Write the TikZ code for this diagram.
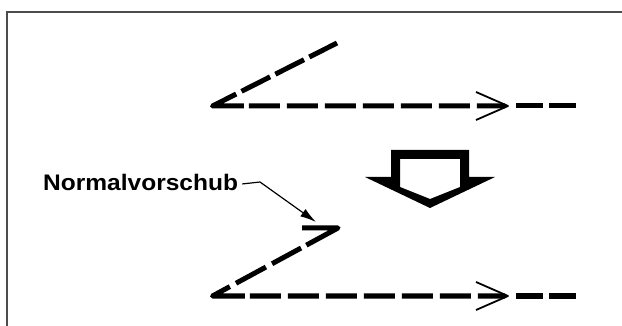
\documentclass[tikz,border=0pt]{standalone}
\usepackage{fontspec}
\setmainfont{Liberation Sans}
\usetikzlibrary{arrows.meta}
\begin{document}
\begin{tikzpicture}[x=1pt,y=-1pt,
  feed/.style={line width=5pt, line join=round},
  barb/.style={line width=1.8pt, line join=round},
  lbl/.style={font=\fontsize{22.5}{22.5}\selectfont\bfseries, inner sep=0pt, anchor=base west},
  leader/.style={line width=1.2pt, -{Latex[length=16pt,width=9pt]}},
  frameline/.style={line width=2pt, draw=black!70}]
\useasboundingbox (0,0) rectangle (622,326);
\begin{scope}
  \clip (0,0) rectangle (622,326);
  \draw[frameline] (6.5,340) -- (6.5,12) -- (640,12);
\end{scope}
% upper feed path
\draw[feed, dash pattern=on 31pt off 6pt on 32pt off 6pt on 32pt off 6pt on 58pt off 5pt on 31pt off 7pt on 31pt off 7pt on 31pt off 7pt on 31pt off 7pt on 31pt off 7pt on 31pt off 7pt on 31pt off 7pt]
  (337,43) -- (212.5,106) -- (505,106);
\draw[barb] (476,92) -- (508,106) -- (476,120);
\draw[feed, dash pattern=on 27pt off 6pt] (516,106) -- (577,106);
% block arrow
\fill[even odd rule] (391,150) -- (469,150) -- (469,177) -- (495,177) -- (430,208) -- (365,177) -- (391,177) -- cycle
  (400,159) -- (460,159) -- (460,187) -- (430,199) -- (400,187) -- cycle;
% lower feed path
\draw[feed, dash pattern=on 72pt off 6pt on 33pt off 7pt on 34pt off 7pt on 52pt off 5pt on 31pt off 7pt on 31pt off 7pt on 31pt off 7pt on 31pt off 7pt on 31pt off 7pt on 31pt off 7pt on 31pt off 7pt]
  (302,228) -- (338,228) -- (212.5,296) -- (505,296);
\draw[barb] (476,282) -- (508,296) -- (476,310);
\draw[feed, dash pattern=on 27pt off 6pt] (516,296) -- (577,296);
% label
\node[lbl] (lab) at (43,191) {\scalebox{1.09}[1]{Normalvorschub}};
\coordinate (bend) at (260,182);
\coordinate (tipN) at (316,222);
\draw[leader] ([xshift=4pt,yshift=-1pt]lab.east) -- (bend) -- (tipN);
\end{tikzpicture}
\end{document}
